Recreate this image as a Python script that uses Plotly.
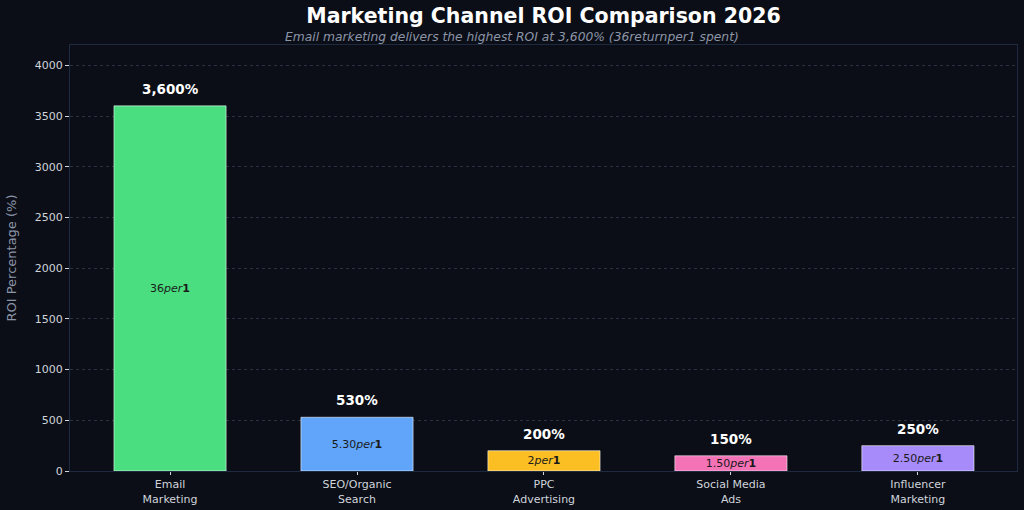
import plotly.graph_objects as go

channels = ["Email<br>Marketing", "SEO/Organic<br>Search", "PPC<br>Advertising", "Social Media<br>Ads", "Influencer<br>Marketing"]
roi = [3600, 530, 200, 150, 250]
roi_labels = ["3,600%", "530%", "200%", "150%", "250%"]
return_per_dollar = ["36", "5.30", "2", "1.50", "2.50"]
colors = ["#4ade80", "#60a5fa", "#fbbf24", "#f472b6", "#a78bfa"]

bg = "#0b0e16"
font_family = "DejaVu Sans"

fig = go.Figure()
fig.add_trace(go.Bar(
    x=list(range(len(channels))),
    y=roi,
    width=0.6,
    marker=dict(color=colors, line=dict(color="rgba(255,255,255,0.55)", width=1)),
    text=[f"{r}<i>per</i><b>1</b>" for r in return_per_dollar],
    textposition="inside",
    insidetextanchor="middle",
    textfont=dict(color="#1a1a1a", size=11, family=font_family),
    textangle=0,
    constraintext="none",
    hoverinfo="skip",
))

for i, (v, lab) in enumerate(zip(roi, roi_labels)):
    fig.add_annotation(x=i, y=v, text=f"<b>{lab}</b>", showarrow=False,
                       yanchor="bottom", yshift=7,
                       font=dict(color="#ffffff", size=13.5, family=font_family))

fig.update_layout(
    width=1024, height=510,
    paper_bgcolor=bg, plot_bgcolor=bg,
    margin=dict(l=70, r=7, t=45, b=39, autoexpand=False),
    showlegend=False,
    font=dict(family=font_family, color="#d0d4dc"),
    title=dict(text="<b>Marketing Channel ROI Comparison 2026</b>", xref="paper", x=0.5, xanchor="center",
               y=0.968, yanchor="middle", font=dict(size=20.5, color="#ffffff", family=font_family)),
    annotations=list(fig.layout.annotations) + [
        dict(text="<i>Email marketing delivers the highest ROI at 3,600% (36returnper1 spent)</i>",
             xref="paper", yref="paper", x=(512 - 70) / 947, y=1.0, yanchor="bottom", yshift=-1, xanchor="center",
             showarrow=False, font=dict(size=12.3, color="#8b95a8", family=font_family))
    ],
    bargap=0.4,
)

fig.update_xaxes(
    range=[-0.535, 4.53], automargin=False,
    tickmode="array", tickvals=list(range(len(channels))), ticktext=channels,
    tickfont=dict(size=11, color="#d0d4dc"),
    ticks="outside", ticklen=3, tickcolor="#d0d4dc",
    showline=True, linecolor="#1e2a40", linewidth=1, mirror=True,
    showgrid=False, zeroline=False,
)
fig.update_yaxes(
    range=[0, 4200], automargin=False,
    tickvals=[0, 500, 1000, 1500, 2000, 2500, 3000, 3500, 4000],
    tickfont=dict(size=11, color="#d0d4dc"),
    ticks="outside", ticklen=4, tickcolor="#d0d4dc",
    showline=True, linecolor="#1e2a40", linewidth=1, mirror=True,
    showgrid=True, gridcolor="#2a3242", griddash="3px,3px", gridwidth=1,
    zeroline=False,
    title=dict(text="ROI Percentage (%)", font=dict(size=13, color="#8b95a8"), standoff=15),
)

fig.write_html("out.html")
